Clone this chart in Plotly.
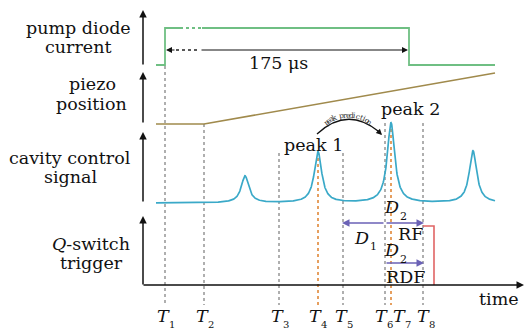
import numpy as np
import plotly.graph_objects as go

# ---------------- data (time axis in diagram units, level axis downward) ----------------
T_names = ["1", "2", "3", "4", "5", "6", "7", "8"]
T_pos = [165, 204, 279, 318, 343, 385, 391, 423]
T_top = [66, 124, 153, 152, 153, 123, 123, 123]
T_kind = ["g", "g", "g", "o", "g", "g", "o", "g"]
T_label_x = [165, 204, 279, 317, 343, 383, 401, 425]

pump_t_a = [156, 165, 165, 180]
pump_y_a = [65, 65, 28, 28]
pump_t_dot = [180, 202]
pump_y_dot = [28, 28]
pump_t_b = [202, 409, 409, 495]
pump_y_b = [28, 28, 65, 65]

piezo_t = [156, 204, 495]
piezo_y = [124, 124, 73]

cav_start, cav_end = 156, 495
cav_base = 203
peak_t = [245, 318, 391, 473]
peak_h = [27, 51, 80, 52]
peak_w = 4.5

q_t = [423, 434, 434]
q_y = [226, 226, 285]

FONT = "DejaVu Serif"
GREEN = "#6fbf83"
BROWN = "#a08a4c"
TEAL = "#3aa9c8"
ORANGE = "#e08838"
GREY = "#6e6e6e"
PURPLE = "#6b62b6"
RED = "#e06464"

fig = go.Figure()

def line(x, y, color, width=1.6, dash=None):
    fig.add_trace(go.Scatter(x=x, y=y, mode="lines",
                             line=dict(color=color, width=width, dash=dash),
                             hoverinfo="skip", showlegend=False))

# dotted marker lines
for t, top, k in zip(T_pos, T_top, T_kind):
    if k == "o":
        line([t, t], [top, 305], ORANGE, 1.6, "dot")
    else:
        line([t, t], [top, 305], GREY, 1.1, "dot")

# pump diode current
line(pump_t_a, pump_y_a, GREEN, 1.8)
line(pump_t_dot, pump_y_dot, GREEN, 1.8, "dot")
line(pump_t_b, pump_y_b, GREEN, 1.8)

# piezo
line(piezo_t, piezo_y, BROWN, 1.6)

# cavity control signal (Lorentzian resonances)
tt = np.linspace(cav_start, cav_end, 1400)
sig = np.zeros_like(tt)
for c, h in zip(peak_t, peak_h):
    sig += h * peak_w**2 / ((tt - c) ** 2 + peak_w**2)
line(tt, cav_base - sig, TEAL, 1.7)

# Q-switch trigger
line(q_t, q_y, RED, 1.6)

# 175 us dotted part
line([176, 200], [50, 50], "#222", 1.3, "dot")

ann = []

def arrow(x, y, ax, ay, color="#111", width=1.5, size=1.0, head=2):
    ann.append(dict(x=x, y=y, ax=ax, ay=ay, xref="x", yref="y", axref="x", ayref="y",
                    text="", showarrow=True, arrowhead=head, arrowsize=size,
                    arrowwidth=width, arrowcolor=color))

def text(x, y, s, size=17.5, xanchor="center", yanchor="middle", color="#111", angle=0):
    ann.append(dict(x=x, y=y, xref="x", yref="y", text=s, showarrow=False,
                    xanchor=xanchor, yanchor=yanchor, textangle=angle,
                    font=dict(family=FONT, size=size, color=color)))

# axes arrows
arrow(143, 10, 143, 66)
arrow(143, 72, 143, 124)
arrow(143, 132, 143, 203)
arrow(143, 216, 143, 286)
arrow(524, 285, 142, 285)

# 175 us arrow
arrow(408, 50, 200, 50, "#111", 1.2)
arrow(166, 50, 176, 50, "#111", 1.2)
text(278, 63, "175 μs")

# D arrows
arrow(342, 223, 385, 223, PURPLE, 1.5, 1.0)
arrow(424, 223, 385, 223, PURPLE, 1.5, 1.0)
arrow(424, 263, 385, 263, PURPLE, 1.5, 1.0)

# peak prediction arc
fig.add_shape(type="path", path="M 317,134 Q 347,106 378,131",
              line=dict(color="#111", width=1.3), xref="x", yref="y")
arrow(382, 135, 376, 129, "#111", 1.3, 0.9)

# curved tiny text
s = "peak prediction"
cx, cy, R = 348, 152, 37
span = 1.35
for i, ch in enumerate(s):
    if ch == " ":
        continue
    a = -span / 2 + span * (i + 0.5) / len(s)
    text(cx + R * np.sin(a), cy - R * np.cos(a), ch, 7.5, angle=np.degrees(a), color="#333")

# left labels
text(78, 28, "pump diode")
text(78, 47, "current")
text(92, 84, "piezo")
text(91, 104, "position")
text(70, 158, "cavity control")
text(70, 177, "signal")
text(91, 244, "<i>Q</i>-switch")
text(91, 263, "trigger")

# peak labels
text(313, 145, "peak 1")
text(410, 109, "peak 2")

# D labels
text(391, 207, "<i>D</i>")
text(403, 216, "2", 11)
text(410, 234, "RF")
text(361, 238, "<i>D</i>")
text(373, 246, "1", 11)
text(391, 250, "<i>D</i>")
text(403, 259, "2", 11)
text(405, 277, "RDF")

# T labels
for n, lx in zip(T_names, T_label_x):
    text(lx - 2, 316, "<i>T</i>")
    text(lx + 7, 324, n, 10)

text(499, 299, "time")

fig.update_layout(
    width=525, height=331, margin=dict(l=0, r=0, t=0, b=0),
    paper_bgcolor="white", plot_bgcolor="white",
    xaxis=dict(range=[0, 525], visible=False, fixedrange=True),
    yaxis=dict(range=[331, 0], visible=False, fixedrange=True),
    annotations=ann, showlegend=False,
)
fig.write_html("out.html", config={"displayModeBar": False, "staticPlot": True},
               post_script="document.body.style.margin='0';document.body.style.overflow='hidden';")
